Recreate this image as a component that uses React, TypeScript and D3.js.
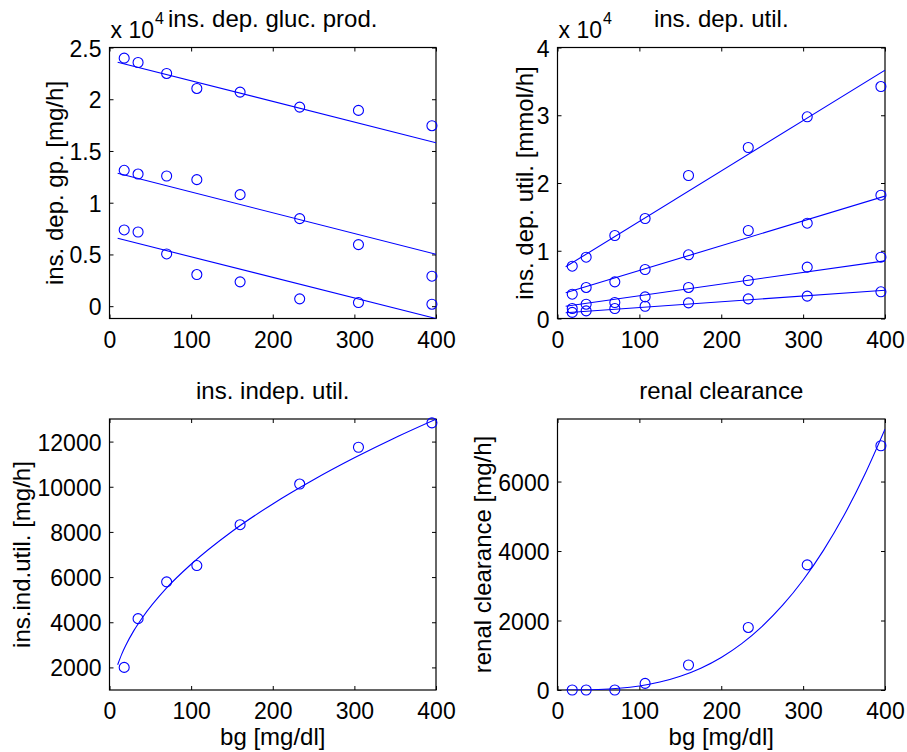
import React, { useEffect, useRef } from "react";
import * as d3 from "d3";

// blood glucose levels (x for every panel)
const bg = [18, 35, 70, 107, 160, 233, 305, 395];
const xTicks = [0, 100, 200, 300, 400];

// ins. dep. gluc. prod. (three insulin levels)
const gpHigh = [23970, 23550, 22490, 21040, 20690, 19240, 18920, 17440];
const gpMid = [13130, 12770, 12580, 12230, 10780, 8460, 5950, 2900];
const gpLow = [7370, 7170, 5050, 3060, 2350, 710, 350, 190];
const fitX = [10, 400];
const gpFitHigh = [23580, 15800];
const gpFitMid = [12840, 5020];
const gpFitLow = [6560, -1190];
const gpTicks = [0, 5000, 10000, 15000, 20000, 25000];

// ins. dep. util. (four insulin levels)
const utilA = [7720, 9050, 12250, 14760, 21110, 25240, 29770, 34240];
const utilB = [3590, 4580, 5410, 7230, 9400, 12990, 14070, 18200];
const utilC = [1470, 2110, 2360, 3190, 4580, 5610, 7580, 9050];
const utilD = [900, 1130, 1470, 1810, 2310, 2900, 3300, 3940];
const utilFitA = [7630, 36650];
const utilFitB = [3790, 18060];
const utilFitC = [1820, 8510];
const utilFitD = [840, 4180];
const utilTicks = [0, 10000, 20000, 30000, 40000];

// ins. indep. util.
const indep = [2000, 4160, 5790, 6510, 8320, 10120, 11750, 12830];
const indepFitX = [10, 15, 20, 30, 40, 70, 100, 150, 200, 250, 300, 350, 400];
const indepFitY = [2120, 2590, 2980, 3640, 4190, 5520, 6570, 8020, 9240, 10310, 11280, 12170, 12990];
const indepTicks = [2000, 4000, 6000, 8000, 10000, 12000];

// renal clearance
const renal = [0, 0, 0, 190, 720, 1800, 3600, 7030];
const renalFitX = [10, 50, 75, 100, 125, 150, 175, 200, 225, 250, 275, 300, 325, 350, 375, 400];
const renalFitY = [0, 15, 50, 117, 229, 396, 629, 938, 1336, 1833, 2440, 3167, 4027, 5029, 6186, 7507];
const renalTicks = [0, 2000, 4000, 6000];

const BLUE = "#0000ff";
const FONT = "'Liberation Sans', Arial, Helvetica, sans-serif";

const panels = [
  {
    box: { left: 109.5, right: 436, top: 47.5, bottom: 318.5 },
    yDomain: [-1190, 25000],
    yTicks: gpTicks,
    scaled: true,
    title: "ins. dep. gluc. prod.",
    ylabel: "ins. dep. gp. [mg/h]",
    ylabelX: 62.5,
    xlabel: null,
    points: [gpHigh, gpMid, gpLow],
    fits: [
      [fitX, gpFitHigh],
      [fitX, gpFitMid],
      [fitX, gpFitLow],
    ],
  },
  {
    box: { left: 557.5, right: 885, top: 47.5, bottom: 318.5 },
    yDomain: [0, 40000],
    yTicks: utilTicks,
    scaled: true,
    title: "ins. dep. util.",
    ylabel: "ins. dep. util. [mmol/h]",
    ylabelX: 532.5,
    xlabel: null,
    points: [utilA, utilB, utilC, utilD],
    fits: [
      [fitX, utilFitA],
      [fitX, utilFitB],
      [fitX, utilFitC],
      [fitX, utilFitD],
    ],
  },
  {
    box: { left: 109.5, right: 436, top: 419, bottom: 690 },
    yDomain: [1000, 13000],
    yTicks: indepTicks,
    scaled: false,
    title: "ins. indep. util.",
    ylabel: "ins.ind.util. [mg/h]",
    ylabelX: 29.5,
    xlabel: "bg [mg/dl]",
    points: [indep],
    fits: [[indepFitX, indepFitY]],
  },
  {
    box: { left: 557.5, right: 885, top: 419, bottom: 690 },
    yDomain: [0, 7800],
    yTicks: renalTicks,
    scaled: false,
    title: "renal clearance",
    ylabel: "renal clearance [mg/h]",
    ylabelX: 490.5,
    xlabel: "bg [mg/dl]",
    points: [renal],
    fits: [[renalFitX, renalFitY]],
  },
];

const App = () => {
  const svgRef = useRef<SVGSVGElement>(null);

  useEffect(() => {
    const svg = d3.select(svgRef.current);
    svg.selectAll("*").remove();

    panels.forEach((p, i) => {
      const { left, right, top, bottom } = p.box;
      const x = d3.scaleLinear().domain([0, 400]).range([left, right]);
      const y = d3.scaleLinear().domain(p.yDomain).range([bottom, top]);
      const g = svg.append("g");

      const clipId = `clip${i}`;
      g.append("clipPath")
        .attr("id", clipId)
        .append("rect")
        .attr("x", left)
        .attr("y", top)
        .attr("width", right - left)
        .attr("height", bottom - top);

      const fmt = p.scaled ? (d: number) => d3.format("~g")(d / 10000) : (d: number) => String(d);

      // axes, ticks pointing inward
      const xa = g.append("g").attr("transform", `translate(0,${bottom})`)
        .call(d3.axisBottom(x).tickValues(xTicks).tickSizeInner(-4).tickSizeOuter(0));
      xa.selectAll("text").attr("y", 29).attr("dy", null);
      g.append("g").attr("transform", `translate(0,${top})`)
        .call(d3.axisTop(x).tickValues(xTicks).tickSizeInner(-4).tickSizeOuter(0).tickFormat(() => ""));
      const ya = g.append("g").attr("transform", `translate(${left},0)`)
        .call(d3.axisLeft(y).tickValues(p.yTicks).tickSizeInner(-4).tickSizeOuter(0).tickFormat(fmt as any));
      ya.selectAll("text").attr("x", -8).attr("dy", 8.5);
      g.append("g").attr("transform", `translate(${right},0)`)
        .call(d3.axisRight(y).tickValues(p.yTicks).tickSizeInner(-4).tickSizeOuter(0).tickFormat(() => ""));

      g.selectAll(".domain").remove();
      g.selectAll(".tick line").attr("stroke", "#000");
      g.selectAll(".tick text")
        .attr("fill", "#000")
        .attr("font-family", FONT)
        .attr("font-size", 23);
      g.selectAll("g").attr("font-family", FONT);

      g.append("rect")
        .attr("x", left)
        .attr("y", top)
        .attr("width", right - left)
        .attr("height", bottom - top)
        .attr("fill", "none")
        .attr("stroke", "#000")
        .attr("stroke-width", 1.2);

      // fitted curves
      const line = d3.line<[number, number]>()
        .x((d) => x(d[0]))
        .y((d) => y(d[1]))
        .curve(d3.curveMonotoneX);
      p.fits.forEach(([fx, fy]) => {
        g.append("path")
          .datum(fx.map((v, k) => [v, fy[k]] as [number, number]))
          .attr("clip-path", `url(#${clipId})`)
          .attr("d", line)
          .attr("fill", "none")
          .attr("stroke", BLUE)
          .attr("stroke-width", 1.1);
      });

      // measured points
      p.points.forEach((vals) => {
        g.selectAll(null)
          .data(vals)
          .join("circle")
          .attr("cx", (_, k) => x(bg[k]))
          .attr("cy", (d) => y(d))
          .attr("r", 5)
          .attr("fill", "none")
          .attr("stroke", BLUE)
          .attr("stroke-width", 1.1);
      });

      // title
      g.append("text")
        .attr("x", (left + right) / 2)
        .attr("y", top - 20.5)
        .attr("text-anchor", "middle")
        .attr("font-family", FONT)
        .attr("font-size", 24)
        .text(p.title);

      // y label
      g.append("text")
        .attr("transform", `translate(${p.ylabelX},${(top + bottom) / 2}) rotate(-90)`)
        .attr("text-anchor", "middle")
        .attr("font-family", FONT)
        .attr("font-size", 24)
        .text(p.ylabel);

      if (p.xlabel) {
        g.append("text")
          .attr("x", (left + right) / 2)
          .attr("y", 745)
          .attr("text-anchor", "middle")
          .attr("font-family", FONT)
          .attr("font-size", 24)
          .text(p.xlabel);
      }

      if (p.scaled) {
        const m = g.append("text")
          .attr("x", left + 1)
          .attr("y", 37.5)
          .attr("font-family", FONT)
          .attr("font-size", 23);
        m.append("tspan").text("x 10");
        m.append("tspan").attr("dy", -14).attr("dx", 1).attr("font-size", 16).text("4");
      }
    });
  }, []);

  return (
    <div>
      <style>{"body{margin:0}"}</style>
      <svg ref={svgRef} width={907} height={752} style={{ display: "block", background: "#fff" }} />
    </div>
  );
};

export default App;
